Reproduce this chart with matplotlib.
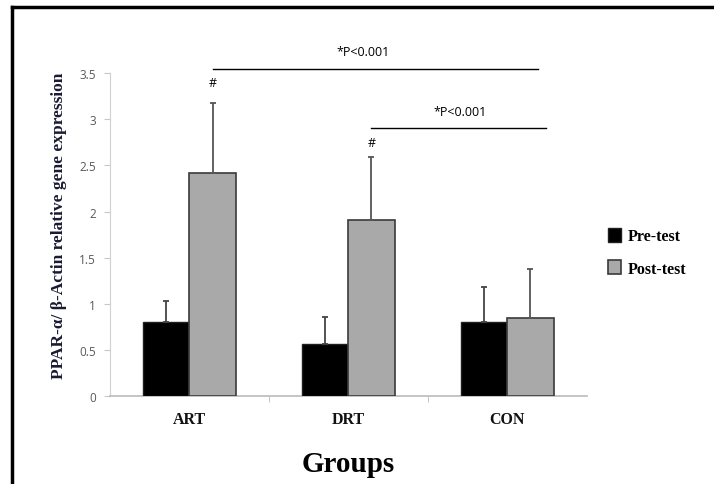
import numpy as np
import matplotlib.pyplot as plt
from matplotlib.lines import Line2D

groups = ['ART', 'DRT', 'CON']
pre_test = [0.80, 0.57, 0.80]
pre_err = [0.23, 0.29, 0.38]
post_test = [2.42, 1.91, 0.85]
post_err = [0.76, 0.68, 0.53]
yticks = [0, 0.5, 1, 1.5, 2, 2.5, 3, 3.5]
ytick_labels = ['0', '0.5', '1', '1.5', '2', '2.5', '3', '3.5']

serif = 'Liberation Serif'
sans = 'Open Sans'

fig = plt.figure(figsize=(7.14, 4.85), dpi=100)
ax = fig.add_axes([0.154, 0.181, 0.668, 0.666])

x = np.arange(len(groups))
w = 0.29
ax.bar(x - w / 2, pre_test, w, color='black', edgecolor='#202020', linewidth=1,
       yerr=[np.zeros(3), pre_err], error_kw=dict(ecolor='#444444', elinewidth=1.3,
                                                  capsize=2.5, capthick=1.3),
       label='Pre-test', zorder=3)
ax.bar(x + w / 2, post_test, w, color='#a9a9a9', edgecolor='#3a3a3a', linewidth=1.2,
       yerr=[np.zeros(3), post_err], error_kw=dict(ecolor='#555555', elinewidth=1.3,
                                                   capsize=2.5, capthick=1.3),
       label='Post-test', zorder=3)

ax.set_xlim(-0.5, 2.5)
ax.set_ylim(0, 3.5)
ax.set_yticks(yticks)
ax.set_yticklabels(ytick_labels, fontsize=8.5, color='#595959', family=sans)
ax.set_xticks(x)
ax.set_xticklabels(groups, fontsize=11.5, fontweight='bold', family=serif, color='#111111')
ax.set_xticks([0.5, 1.5], minor=True)
ax.tick_params(axis='x', which='major', length=0, pad=11)
ax.tick_params(axis='x', which='minor', length=4, color='#bbbbbb')
ax.tick_params(axis='y', length=4, color='#c8c8c8', pad=6)

for s in ['top', 'right']:
    ax.spines[s].set_visible(False)
ax.spines['left'].set_color('#d0d0d0')
ax.spines['bottom'].set_color('#bbbbbb')
ax.spines['bottom'].set_linewidth(1.2)

# y label sits a touch higher than the axes centre in the original
ax.set_ylabel('PPAR-α/ β-Actin relative gene expression', fontsize=12.5,
              fontweight='bold', family=serif, color='#1a1a33', labelpad=10)
ax.yaxis.set_label_coords(-0.09, 0.53)
ax.set_xlabel('Groups', fontsize=21, fontweight='bold', family=serif, labelpad=16)

# significance lines and markers
ax.plot([0.148, 2.19], [3.55, 3.55], color='black', lw=1, clip_on=False)
ax.text(1.09, 3.66, '*P<0.001', ha='center', va='bottom', fontsize=9, family=sans)
ax.plot([1.14, 2.24], [2.91, 2.91], color='black', lw=1, clip_on=False)
ax.text(1.70, 3.02, '*P<0.001', ha='center', va='bottom', fontsize=9, family=sans)
ax.text(0.145, 3.33, '#', ha='center', va='bottom', fontsize=9, family=sans)
ax.text(1.145, 2.68, '#', ha='center', va='bottom', fontsize=9, family=sans)

leg = ax.legend(loc='center left', bbox_to_anchor=(1.015, 0.445), frameon=False,
                prop=dict(family=serif, weight='bold', size=11.5),
                handlelength=0.8, handleheight=0.9, labelspacing=1.0, handletextpad=0.4)

# outer frame on left and top
fig.add_artist(Line2D([12 / 714, 12 / 714], [0, 1 - 8 / 485], color='black', lw=2.5))
fig.add_artist(Line2D([12 / 714, 1], [1 - 8 / 485, 1 - 8 / 485], color='black', lw=2.5))

fig.savefig('out.png', dpi=100)
